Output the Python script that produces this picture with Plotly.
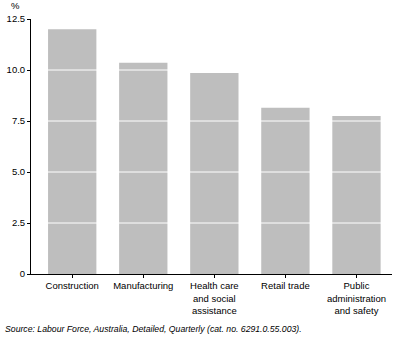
import plotly.graph_objects as go

categories = ["Construction", "Manufacturing", "Health care and social assistance",
              "Retail trade", "Public administration and safety"]
tick_labels = ["Construction", "Manufacturing", "Health care<br>and social<br>assistance",
               "Retail trade", "Public<br>administration<br>and safety"]
values = [12.0, 10.35, 9.85, 8.15, 7.75]
y_ticks = [0, 2.5, 5.0, 7.5, 10.0, 12.5]
y_tick_text = ["0", "2.5", "5.0", "7.5", "10.0", "12.5"]
source = "Source: Labour Force, Australia, Detailed, Quarterly (cat. no. 6291.0.55.003)."

FONT = "Liberation Sans, Arial, sans-serif"
W, H = 397, 340
L, R, T, B = 31, 5, 19, 66
pw, ph = W - L - R, H - T - B

fig = go.Figure(go.Bar(x=categories, y=values, marker=dict(color="#BEBEBE", line=dict(width=0)),
                       width=0.68))

shapes = []
for t in y_ticks:
    if 0 < t < y_ticks[-1]:
        shapes.append(dict(type="line", xref="paper", x0=0, x1=1, yref="y", y0=t, y1=t,
                           line=dict(color="white", width=1), layer="above"))

fig.update_layout(
    width=W, height=H,
    margin=dict(l=L, r=R, t=T, b=B),
    plot_bgcolor="white", paper_bgcolor="white",
    font=dict(family=FONT, size=9.5, color="black"),
    showlegend=False,
    shapes=shapes,
    xaxis=dict(tickmode="array", tickvals=categories, ticktext=tick_labels,
               showline=True, linecolor="black", linewidth=1,
               ticks="outside", ticklen=3, tickcolor="black",
               showgrid=False, tickangle=0, range=[-0.58, 4.5]),
    yaxis=dict(range=[0, 12.5], tickmode="array", tickvals=y_ticks, ticktext=y_tick_text,
               showline=True, linecolor="black", linewidth=1,
               ticks="outside", ticklen=3, tickcolor="black",
               showgrid=False, zeroline=False),
    annotations=[
        dict(text="%", xref="paper", yref="paper", x=(15 - L) / pw, y=(H - B - 6) / ph,
             xanchor="center", yanchor="middle", showarrow=False, font=dict(size=9.5)),
        dict(text="<i>" + source + "</i>", xref="paper", yref="paper",
             x=(3 - L) / pw, y=(H - B - 329) / ph,
             xanchor="left", yanchor="middle", showarrow=False, font=dict(size=8.7)),
    ],
)

fig.write_html("out.html")
